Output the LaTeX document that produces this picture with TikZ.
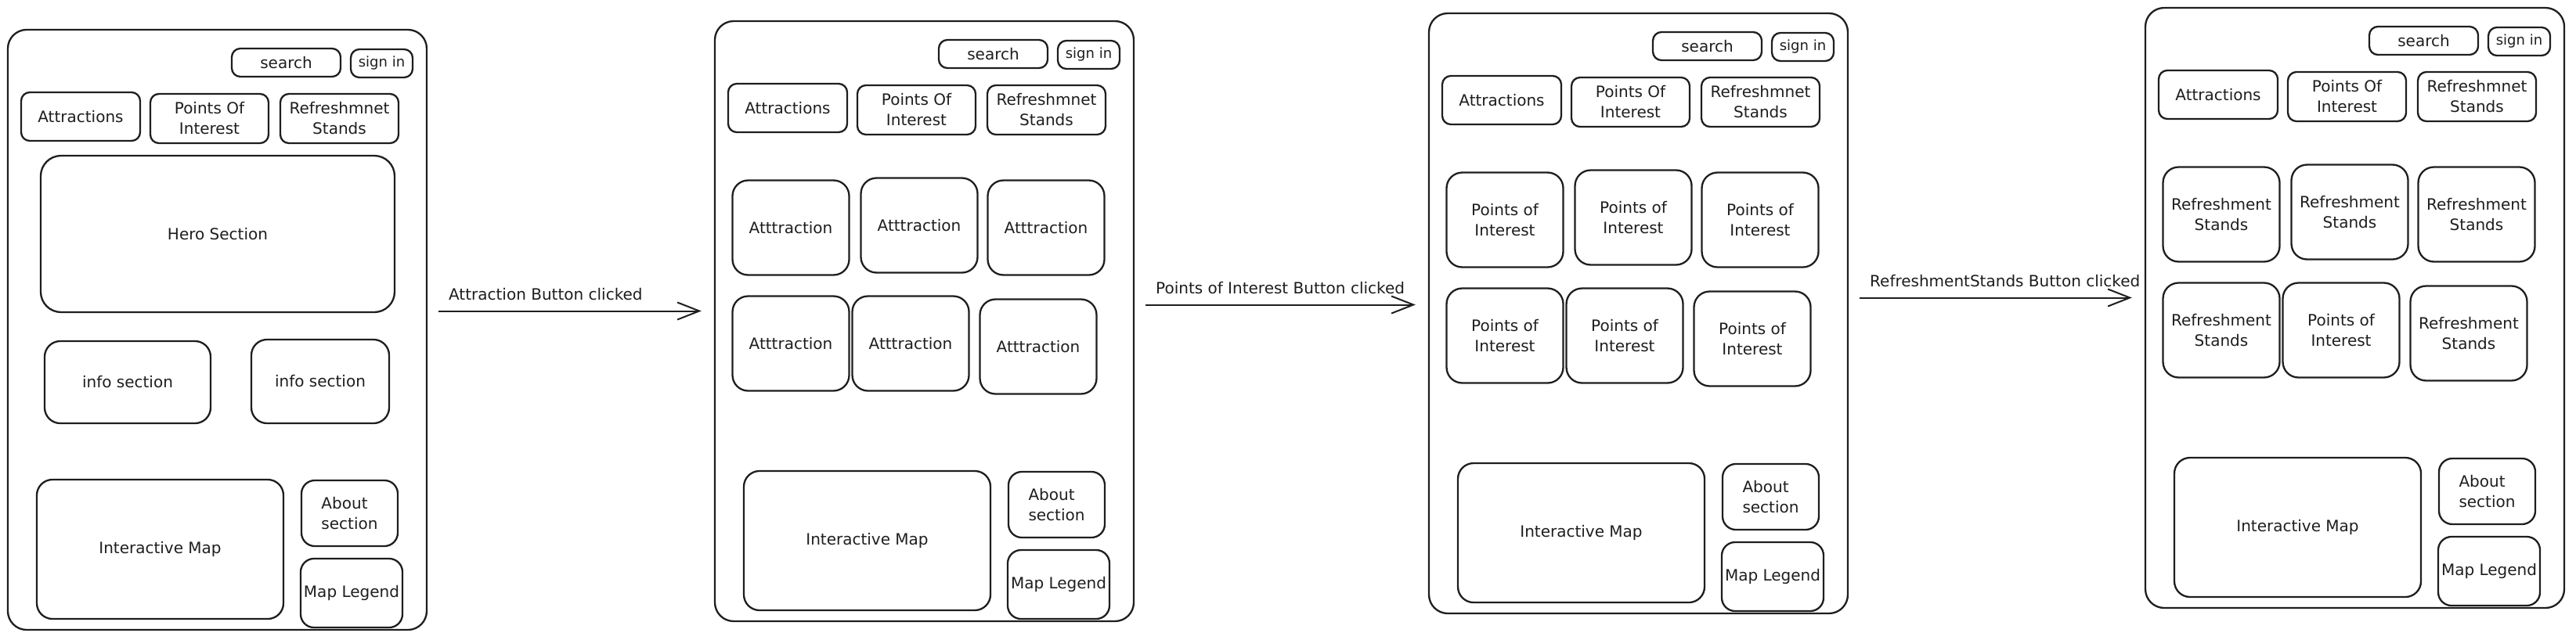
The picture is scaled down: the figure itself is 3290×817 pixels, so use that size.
\documentclass[tikz,border=0pt]{standalone}
\usepackage{fontspec}
\setmainfont{DejaVu Sans}
\usetikzlibrary{arrows.meta}
\definecolor{ink}{HTML}{1E1E1E}
\begin{document}
\begin{tikzpicture}[
		x=1pt, y=-1pt,
		every node/.style={font=\fontsize{20}{26}\selectfont, text=ink},
		box/.style={draw=ink, line width=2.3pt, rounded corners=20pt, align=center, inner sep=0pt},
		navbox/.style={box, rounded corners=11pt},
		screen/.style={box, rounded corners=24pt, minimum width=535pt, minimum height=767pt},
		flow/.style={draw=ink, line width=2pt, -{Straight Barb[length=28pt,width=22pt]}}
	]
	\useasboundingbox (0,0) rectangle (3290,817);
	\foreach \i/\fx/\fy in {1/10/38, 2/913/27, 3/1825/17, 4/2740/10} {
		\begin{scope}[shift={(\fx,\fy)}]
			\node[screen] (frame\i) at (267.5,383.5) {};
			\node[navbox, minimum width=139pt, minimum height=36pt] (search\i) at (355.5,42) {search};
			\node[navbox, minimum width=79pt, minimum height=36pt, font=\fontsize{18}{22}\selectfont] (signin\i) at (477.5,43) {sign in};
			\node[navbox, minimum width=152pt, minimum height=62pt] (attr\i) at (93,111) {Attractions};
			\node[navbox, minimum width=151pt, minimum height=63pt] (poi\i) at (257.5,113.5) {Points Of\\Interest};
			\node[navbox, minimum width=151pt, minimum height=63pt] (stands\i) at (423.5,113.5) {Refreshmnet\\Stands};
			\node[box, minimum width=315pt, minimum height=178pt] (map\i) at (194.5,664) {Interactive Map};
			\node[box, align=left, rounded corners=17pt, minimum width=123pt, minimum height=84pt] (about\i) at (436.5,618) {About\\section};
			\node[box, rounded corners=17pt, minimum width=130pt, minimum height=88pt] (legend\i) at (439,720) {Map Legend};
		\end{scope}
	}
	\begin{scope}[shift={(10,38)}]
		\node[box, rounded corners=26pt, minimum width=452pt, minimum height=200pt] (hero) at (268,261) {Hero Section};
		\node[box, minimum width=212pt, minimum height=105pt] (info1) at (153,450.5) {info section};
		\node[box, minimum width=176pt, minimum height=107pt] (info2) at (399,449.5) {info section};
	\end{scope}
	\foreach \i/\fx/\fy/\cellA/\cellB in {2/913/27/Atttraction/Atttraction, 3/1825/17/{Points of\\Interest}/{Points of\\Interest}, 4/2740/10/{Refreshment\\Stands}/{Points of\\Interest}} {
		\begin{scope}[shift={(\fx,\fy)}]
			\foreach \j/\cx/\cy/\lbl in {1/97/264/\cellA, 2/261/261/\cellA, 3/423/264/\cellA, 4/97/412/\cellA, 5/250/412/\cellB, 6/413/416/\cellA}
				\node[box, minimum width=149pt, minimum height=121pt] (cell\i\j) at (\cx,\cy) {\lbl};
		\end{scope}
	}
	\foreach \a/\b/\dy/\txt in {1/2/24pt/{Attraction Button clicked}, 2/3/21pt/{Points of Interest Button clicked}, 3/4/20pt/{RefreshmentStands Button clicked}}
		\draw[flow] ([shift={(14pt,\dy)}]frame\a.east) coordinate (from\a) -- ([xshift=-16pt]from\a -| frame\b.west)
			node[pos=0, anchor=south west, inner sep=0pt, xshift=12pt, yshift=13pt] {\txt};
\end{tikzpicture}
\end{document}
